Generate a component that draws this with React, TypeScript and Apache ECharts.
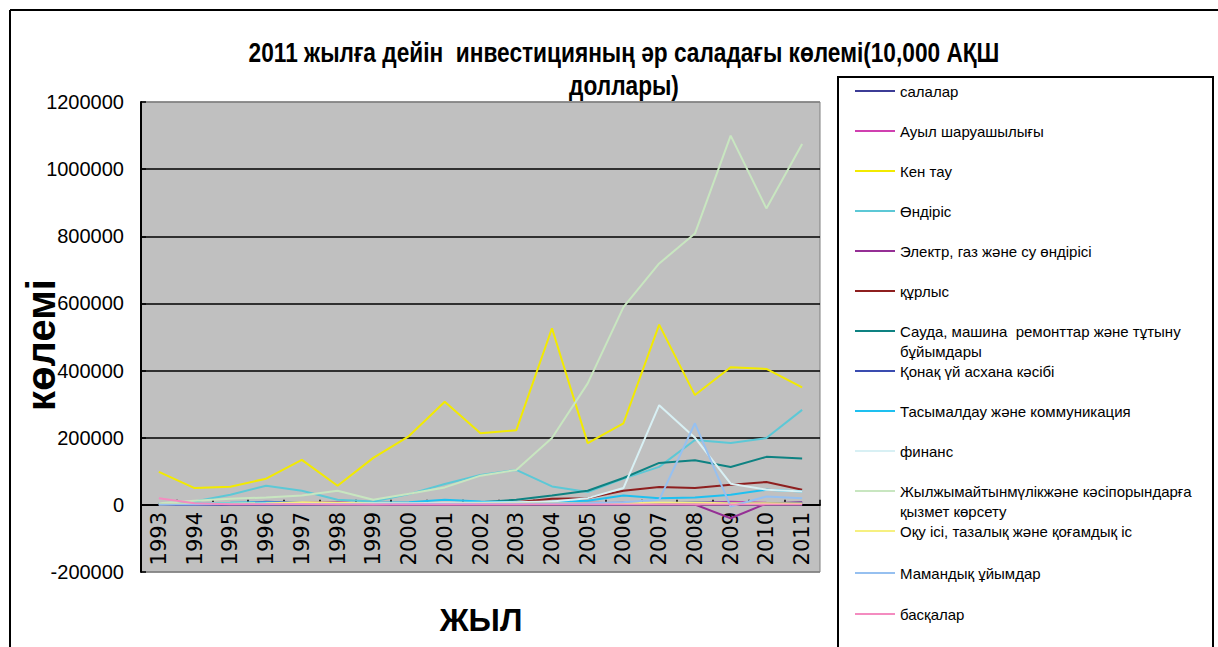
import React, { useEffect, useRef } from "react";
import * as echarts from "echarts";

const years = ["1993","1994","1995","1996","1997","1998","1999","2000","2001","2002","2003","2004","2005","2006","2007","2008","2009","2010","2011"];

const seriesNames = [
  "салалар",
  "Ауыл шаруашылығы",
  "Кен тау",
  "Өндіріс",
  "Электр, газ және су өндірісі",
  "құрлыс",
  "Сауда, машина  ремонттар және тұтыну бұйымдары",
  "Қонақ үй асхана кәсібі",
  "Тасымалдау және коммуникация",
  "финанс",
  "Жылжымайтынмүлікжәне кәсіпорындарға қызмет көрсету",
  "Оқу ісі, тазалық және қоғамдық іс",
  "Мамандық ұйымдар",
  "басқалар",
];

const salalar = [0,0,0,0,0,0,0,0,0,0,0,0,0,0,0,0,0,0,0];
const auyl = [3000,2000,2000,3000,5000,3000,2000,2000,2000,2000,2000,3000,3000,4000,5000,5000,9000,6000,5000];
const ken = [98000,50000,54000,78000,134000,57000,140000,205000,307000,213000,222000,526000,184000,243000,537000,327000,410000,405000,350000];
const ondiris = [3000,10000,30000,57000,42000,15000,10000,32000,62000,89000,104000,55000,38000,78000,113000,193000,184000,199000,283000];
const elektr = [1000,2000,3000,9000,6000,8000,2000,2000,2000,3000,3000,4000,6000,5000,4000,1000,-40000,4000,8000];
const qurlys = [3000,3000,4000,5000,3000,3000,2000,3000,4000,5000,8000,18000,20000,42000,53000,50000,60000,68000,45000];
const sauda = [2000,3000,3000,4000,4000,3000,3000,4000,5000,8000,15000,28000,42000,80000,125000,133000,113000,143000,138000];
const qonaq = [1000,1000,2000,2000,2000,3000,2000,2000,3000,3000,4000,4000,5000,6000,5000,7000,6000,5000,6000];
const tasymal = [3000,5000,6000,8000,6000,5000,6000,8000,15000,10000,8000,9000,12000,28000,20000,22000,30000,45000,40000];
const finans = [2000,3000,3000,4000,4000,5000,5000,5000,6000,6000,8000,10000,20000,50000,297000,200000,63000,45000,40000];
const zhylzhy = [5000,12000,18000,22000,28000,42000,15000,33000,52000,87000,104000,199000,362000,589000,719000,808000,1100000,883000,1075000];
const oqu = [2000,3000,3000,4000,8000,6000,3000,3000,3000,4000,4000,5000,5000,5000,6000,6000,5000,5000,4000];
const mamandyq = [1000,1000,2000,2000,2000,2000,2000,3000,3000,3000,3000,4000,5000,8000,15000,243000,-5000,25000,20000];
const basqalar = [20000,5000,2000,2000,2000,1000,1000,1000,1000,1000,1000,1000,1000,1000,1000,1000,1000,1000,1000];

const seriesData = [salalar, auyl, ken, ondiris, elektr, qurlys, sauda, qonaq, tasymal, finans, zhylzhy, oqu, mamandyq, basqalar];

const colors = ["#3c3c96","#d040b0","#f2ea00","#5cc8d6","#952f95","#8e1f1f","#0e8282","#3a4cb0","#1ec0f0","#d8f0f4","#c8e6c0","#f6f080","#96c0f0","#f48cc0"];

const yMin = -200000;
const yMax = 1200000;
const yStep = 200000;

const titleText = "2011 жылға дейін  инвестицияның әр саладағы көлемі(10,000 АҚШ\nдоллары)";
const yName = "көлемі";
const xName = "ЖЫЛ";

const legendLabels: Record<string, string> = {
  "Сауда, машина  ремонттар және тұтыну бұйымдары": "\nСауда, машина  ремонттар және тұтыну\nбұйымдары",
  "Жылжымайтынмүлікжәне кәсіпорындарға қызмет көрсету": "\nЖылжымайтынмүлікжәне кәсіпорындарға\nқызмет көрсету",
};

// vertical centre of each legend row (first text line)
const legendRows = [91, 131, 171, 211, 251, 291, 331, 371, 411, 451, 491, 531, 573, 614];

export default function App() {
  const ref = useRef<HTMLDivElement>(null);
  useEffect(() => {
    if (!ref.current) return;
    const chart = echarts.init(ref.current, undefined, { renderer: "svg" });
    const legendFont = { color: "#000", fontSize: 15, fontFamily: "Liberation Sans" };
    const legends = seriesNames.map((n, i) => {
      const multi = !!legendLabels[n];
      return {
        show: true,
        orient: "vertical",
        left: 855,
        top: multi ? legendRows[i] - 30 : legendRows[i] - 7.5,
        padding: 0,
        itemWidth: 40,
        itemHeight: 2,
        icon: "rect",
        selectedMode: false,
        textStyle: multi ? { ...legendFont, lineHeight: 20 } : legendFont,
        formatter: (name: string) => legendLabels[name] || name,
        data: [n],
      };
    });
    const option: any = {
      animation: false,
      backgroundColor: "#fff",
      color: colors,
      graphic: [
        { type: "line", shape: { x1: 10, y1: 10, x2: 1218, y2: 10 }, style: { stroke: "#000", lineWidth: 2 } },
        { type: "line", shape: { x1: 10, y1: 10, x2: 10, y2: 647 }, style: { stroke: "#000", lineWidth: 2 } },
        { type: "rect", shape: { x: 838, y: 77, width: 375, height: 600 }, style: { fill: "#fff", stroke: "#000", lineWidth: 2 }, z: 0 },
        {
          type: "text",
          x: 624,
          y: 36,
          scaleX: 0.81,
          style: {
            text: titleText,
            font: 'bold 28px "Liberation Sans"',
            fill: "#000",
            textAlign: "center",
            textVerticalAlign: "top",
            lineHeight: 33,
          },
        },
        {
          type: "text",
          x: 41,
          y: 345,
          rotation: Math.PI / 2,
          style: {
            text: yName,
            font: 'bold 40px "Liberation Sans"',
            fill: "#000",
            textAlign: "center",
            textVerticalAlign: "middle",
          },
        },
        {
          type: "text",
          x: 481,
          y: 620,
          style: {
            text: xName,
            font: 'bold 32px "Liberation Sans"',
            fill: "#000",
            textAlign: "center",
            textVerticalAlign: "middle",
          },
        },
      ],
      grid: {
        left: 141,
        top: 102,
        right: 398,
        bottom: 75,
        show: true,
        backgroundColor: "#c0c0c0",
        borderColor: "#808080",
        borderWidth: 1,
        containLabel: false,
        outerBoundsMode: "none",
      },
      legend: legends,
      xAxis: {
        type: "category",
        data: years,
        boundaryGap: true,
        axisLine: { onZero: true, lineStyle: { color: "#000", width: 2 } },
        axisTick: { show: true, inside: true, length: 5, interval: 0, lineStyle: { color: "#000", width: 1.5 } },
        axisLabel: { rotate: 90, interval: 0, margin: -60, fontSize: 21, fontFamily: "DejaVu Sans", color: "#000" },
        splitLine: { show: false },
      },
      yAxis: {
        type: "value",
        min: yMin,
        max: yMax,
        interval: yStep,
        axisLine: { show: true, lineStyle: { color: "#000", width: 2 } },
        axisTick: { show: true, inside: true, length: 5, lineStyle: { color: "#000", width: 1.5 } },
        axisLabel: {
          margin: 17,
          fontSize: 20,
          fontFamily: "Liberation Sans",
          color: "#000",
          formatter: (v: number) => String(v),
        },
        splitLine: {
          show: true,
          lineStyle: { color: ["#808080", "#000", "#000", "#000", "#000", "#000", "#000", "#808080"], width: 1.5 },
        },
      },
      series: seriesNames.map((name, i) => ({
        name,
        type: "line",
        data: seriesData[i],
        showSymbol: false,
        symbol: "none",
        lineStyle: { width: 2, color: colors[i] },
        itemStyle: { color: colors[i] },
      })),
    };
    chart.setOption(option);
    return () => chart.dispose();
  }, []);
  return <div ref={ref} style={{ position: "fixed", left: 0, top: 0, width: 1218, height: 647 }} />;
}
